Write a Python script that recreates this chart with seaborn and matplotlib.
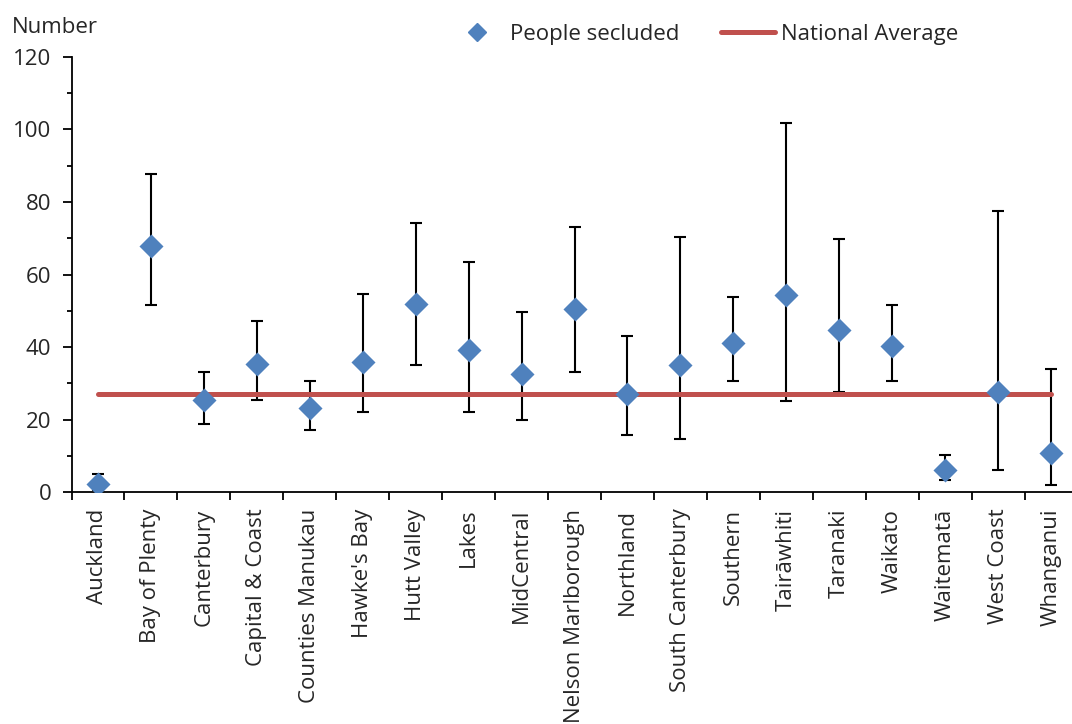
import numpy as np
import pandas as pd
import seaborn as sns
import matplotlib.pyplot as plt
from matplotlib.lines import Line2D
from matplotlib.ticker import MultipleLocator

sns.set_style("ticks")
plt.rcParams['font.family'] = ['Open Sans', 'DejaVu Sans']

# Dados
regions = ["Auckland", "Bay of Plenty", "Canterbury", "Capital & Coast", "Counties Manukau",
           "Hawke's Bay", "Hutt Valley", "Lakes", "MidCentral", "Nelson Marlborough",
           "Northland", "South Canterbury", "Southern", "Tairāwhiti", "Taranaki",
           "Waikato", "Waitematā", "West Coast", "Whanganui"]
secluded = [2.2, 67.9, 25.3, 35.2, 23.3, 35.8, 52.0, 39.1, 32.5, 50.6,
            27.0, 35.0, 41.0, 54.3, 44.8, 40.2, 6.1, 27.5, 10.9]
ci_low = [0.5, 51.7, 18.8, 25.5, 17.2, 22.2, 35.1, 22.2, 20.0, 33.2,
          15.6, 14.5, 30.5, 25.0, 27.5, 30.6, 3.4, 6.1, 2.0]
ci_high = [5.0, 87.6, 33.0, 47.2, 30.6, 54.5, 74.2, 63.5, 49.6, 73.1,
           43.0, 70.3, 53.8, 101.7, 69.7, 51.7, 10.2, 77.6, 33.9]
national_avg = 27.0

df = pd.DataFrame({"region": regions, "secluded": secluded,
                   "low": ci_low, "high": ci_high})
df["avg"] = national_avg

blue = "#4F81BD"
red = "#C0504D"

fig = plt.figure(figsize=(10.72, 7.24), dpi=100)
ax = fig.add_axes([0.0667, 0.3204, 0.9385, 0.6009])

pos = np.arange(len(df))
ax.errorbar(pos, df["secluded"],
            yerr=[df["secluded"] - df["low"], df["high"] - df["secluded"]],
            fmt="none", ecolor="black", elinewidth=1.5, capsize=4.5, capthick=1.5, zorder=1)
sns.lineplot(x=pos, y=df["avg"], color=red, linewidth=3.6, ax=ax, zorder=2)
sns.scatterplot(x=pos, y=df["secluded"], marker="D", s=150, color=blue,
                edgecolor=blue, linewidth=0, ax=ax, zorder=3)

ax.set_xlim(-0.5, len(df) - 0.5)
ax.set_ylim(0, 120)
ax.set_xticks(pos)
ax.set_xticklabels(df["region"], rotation=90, fontsize=16)
ax.set_xticks(np.arange(-0.5, len(df), 1), minor=True)
ax.tick_params(axis="x", which="major", length=0, pad=12)
ax.tick_params(axis="x", which="minor", length=6, width=1.3, direction="out", color="black")
ax.yaxis.set_major_locator(MultipleLocator(20))
ax.yaxis.set_minor_locator(MultipleLocator(10))
ax.tick_params(axis="y", which="major", length=6.5, width=1.3, direction="out",
               labelsize=16, pad=8, color="black")
ax.tick_params(axis="y", which="minor", length=3.6, width=1.3, direction="out", color="black")
ax.set_xlabel("")
ax.set_ylabel("")
for s in ["top", "right"]:
    ax.spines[s].set_visible(False)
for s in ["left", "bottom"]:
    ax.spines[s].set_linewidth(1.3)
    ax.spines[s].set_color("black")

fig.text(0.011, 0.962, "Number", fontsize=16, va="center", ha="left")

handles = [Line2D([], [], marker="D", color=blue, linestyle="none", markersize=9),
           Line2D([], [], color=red, linewidth=3.6)]
fig.legend(handles, ["People secluded", "National Average"], loc="center",
           bbox_to_anchor=(0.657, 0.953), ncol=2, frameon=False, fontsize=16,
           handlelength=2.4, handletextpad=0.3, columnspacing=1.9)

plt.savefig("out.png", dpi=100)
